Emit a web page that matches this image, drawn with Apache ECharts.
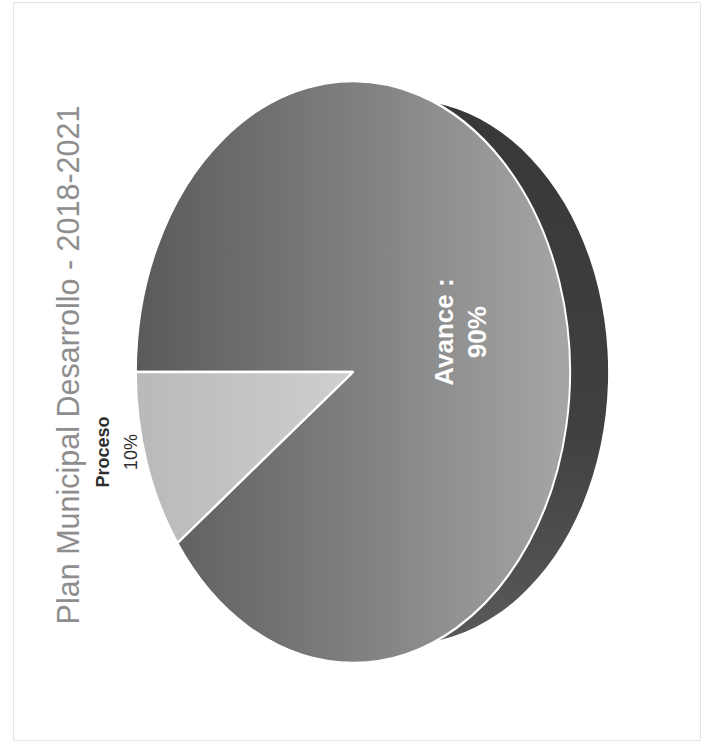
<!DOCTYPE html>
<html>
<head>
<meta charset="utf-8">
<script src="https://cdn.jsdelivr.net/npm/echarts@6/dist/echarts.min.js"></script>
<style>
  html, body { margin: 0; padding: 0; background: #ffffff; }
  #wrap { position: relative; width: 710px; height: 754px; overflow: hidden; background: #ffffff; }
  #pie { position: absolute; left: 0; top: 0; width: 710px; height: 754px;
         transform-origin: 353px 372px; transform: scaleX(0.746); }
  #txt { position: absolute; left: 0; top: 0; width: 710px; height: 754px; }
</style>
</head>
<body>
<div id="wrap"><div id="pie"></div><div id="txt"></div></div>
<script>
// ---- data ----
const categories = ['Avance', 'Proceso'];
const values = [90, 10];
const titleText = 'Plan Municipal Desarrollo - 2018-2021';

// ---- geometry / style (not data) ----
const CX = 353, CY = 372, R = 291, SX = 0.746;   // top face (pre-scale circle)
const BOT_CX = 423, BOT_R = 272;                   // bottom face (side wall)
const START = 180;

const G = echarts.graphic.LinearGradient;
const topColors = [
  new G(62, 0, 644, 0, [
    { offset: 0, color: '#5a5a5a' },
    { offset: 0.5, color: '#7f7f7f' },
    { offset: 1, color: '#a6a6a6' }
  ], true),
  new G(62, 0, 353, 0, [
    { offset: 0, color: '#b9b9b9' },
    { offset: 1, color: '#cfcfcf' }
  ], true)
];
const sideColor = new G(0, 100, 0, 645, [
  { offset: 0, color: '#383838' },
  { offset: 0.6, color: '#404040' },
  { offset: 1, color: '#5a5a5a' }
], true);

const pieChart = echarts.init(document.getElementById('pie'), null, { renderer: 'svg' });
pieChart.setOption({
  animation: false,
  backgroundColor: 'transparent',
  series: [
    {
      type: 'pie', z: 1, silent: true,
      center: [BOT_CX, CY], radius: BOT_R,
      startAngle: START, clockwise: true,
      label: { show: false }, labelLine: { show: false },
      emphasis: { disabled: true },
      itemStyle: { color: sideColor, borderWidth: 0 },
      data: categories.map((c, i) => ({ name: c, value: values[i] }))
    },
    {
      type: 'pie', z: 2, silent: true,
      center: [CX, CY], radius: R,
      startAngle: START, clockwise: true,
      label: { show: false }, labelLine: { show: false },
      emphasis: { disabled: true },
      itemStyle: { borderColor: '#ffffff', borderWidth: 2.6 },
      data: categories.map((c, i) => ({ name: c, value: values[i], itemStyle: { color: topColors[i] } }))
    }
  ]
});

const labelStyles = [
  { position: 'inside', formatter: '{b} :\n{d}%', color: '#ffffff', fontWeight: 'bold',
    fontSize: 26, lineHeight: 33, fontFamily: 'Liberation Sans' },
  { position: 'outside', formatter: '{n|{b}}\n{p|{d}%}', color: '#333333',
    fontFamily: 'Liberation Sans',
    rich: {
      n: { fontSize: 18, fontWeight: 'bold', color: '#2e2e2e', lineHeight: 28, fontFamily: 'Liberation Sans' },
      p: { fontSize: 18, color: '#2e2e2e', lineHeight: 28, fontFamily: 'Liberation Sans' }
    } }
];

const txtChart = echarts.init(document.getElementById('txt'), null, { renderer: 'svg' });
txtChart.setOption({
  animation: false,
  backgroundColor: 'transparent',
  graphic: [
    { type: 'rect', z: -1, silent: true,
      shape: { x: 13.5, y: 2.5, width: 687, height: 738 },
      style: { fill: 'none', stroke: '#e4e4e4', lineWidth: 1 } },
    { type: 'text', x: 68, y: 365, rotation: Math.PI / 2, silent: true,
      style: { text: titleText, fontSize: 30.5, fontFamily: 'Liberation Sans',
               fill: '#8e8e8e', align: 'center', verticalAlign: 'middle' } }
  ],
  series: [{
    type: 'pie', silent: true,
    center: [CX, CY], radius: R,
    startAngle: START, clockwise: true,
    avoidLabelOverlap: false,
    itemStyle: { color: 'rgba(0,0,0,0)', borderWidth: 0 },
    emphasis: { disabled: true },
    label: { show: true, rotate: 90 },
    labelLine: { show: true, length: 10, length2: 10, lineStyle: { opacity: 0, width: 0 } },
    labelLayout: function (p) {
      const pts = p.labelLinePoints;
      if (labelStyles[p.dataIndex].position === 'outside' && pts && pts.length) {
        const ex = CX + (pts[0][0] - CX) * SX, ey = pts[0][1];
        return { x: ex - 30, y: ey - 10, align: 'center', verticalAlign: 'middle' };
      }
      const r = p.labelRect;
      const lx = r.x + r.width / 2, ly = r.y + r.height / 2;
      return { x: CX + (lx - CX) * SX + 2, y: ly + 6, align: 'center', verticalAlign: 'middle' };
    },
    data: categories.map((c, i) => ({ name: c, value: values[i], label: labelStyles[i] }))
  }]
});
</script>
</body>
</html>
